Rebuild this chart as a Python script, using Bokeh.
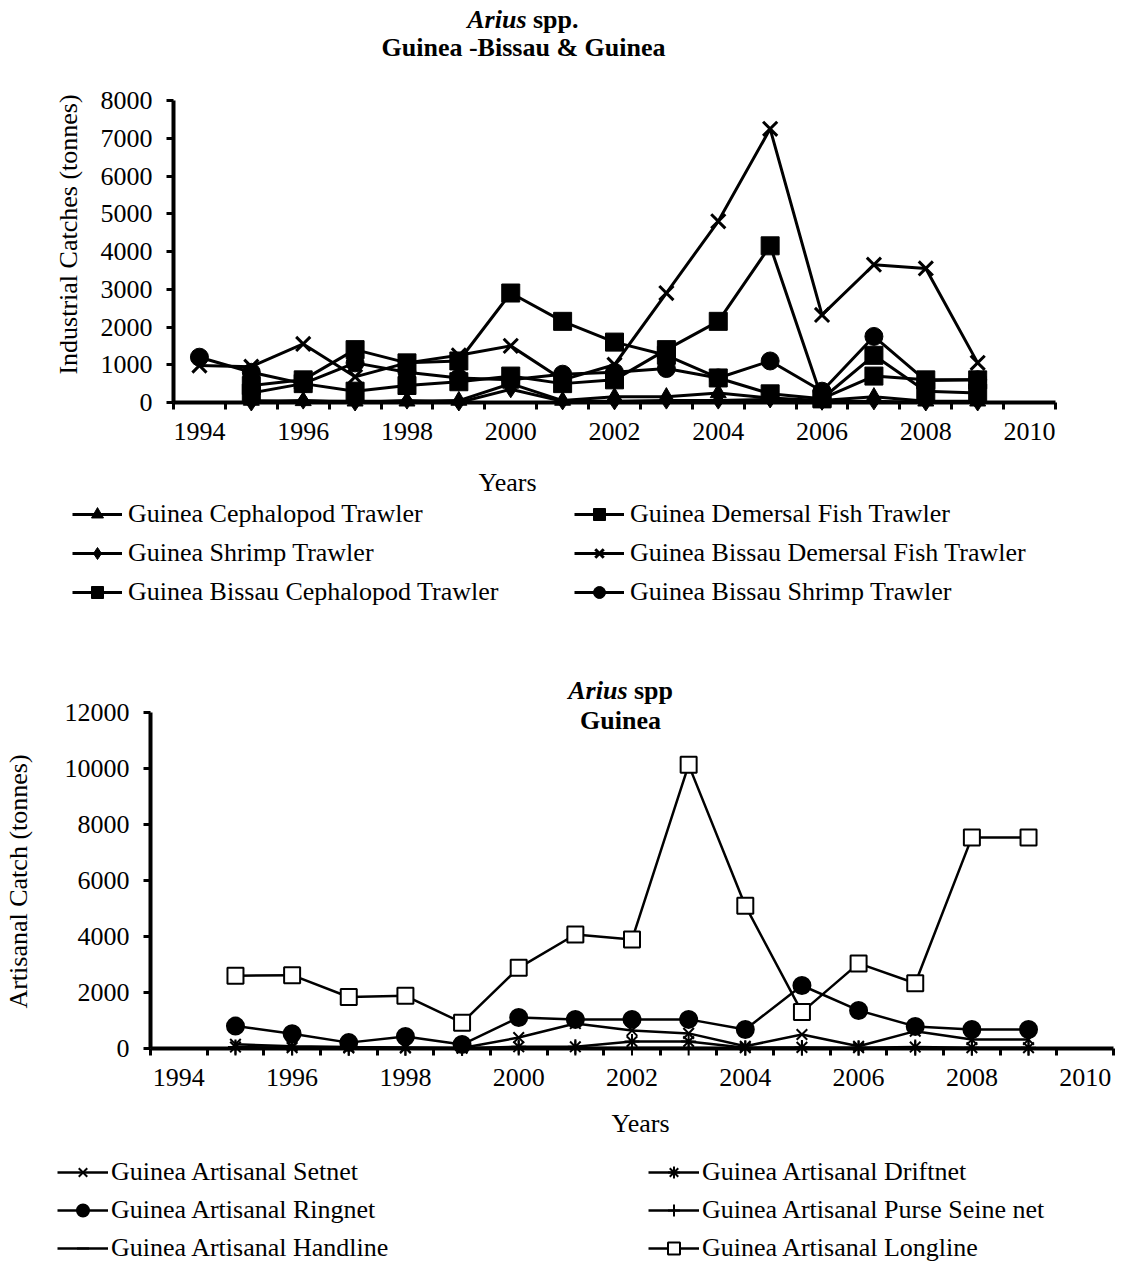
import numpy as np
from bokeh.plotting import figure
from bokeh.models import Range1d, FixedTicker, Legend, LegendItem, Label, LinearAxis
from bokeh.layouts import column
from bokeh.embed import file_html
from bokeh.resources import INLINE

FONT = "Liberation Serif"
FS = "26px"
NA = float("nan")

# ---------------- Top chart data (Industrial catches) ----------------
top_years = [1994, 1995, 1996, 1997, 1998, 1999, 2000, 2001, 2002, 2003, 2004, 2005, 2006, 2007, 2008, 2009]
guinea_cephalopod_trawler = [NA, 50, 40, 30, 30, 50, 500, 50, 150, 150, 250, 120, 50, 150, 30, 30]
guinea_demersal_fish_trawler = [NA, 250, 500, 300, 450, 550, 700, 500, 600, 1400, 2150, 4150, 100, 1250, 300, 250]
guinea_shrimp_trawler = [NA, 0, 50, 0, 50, 0, 350, 30, 30, 50, 50, 80, 20, 30, 0, 0]
gb_demersal_fish_trawler = [980, 950, 1550, 680, 1050, 1250, 1500, 600, 1000, 2900, 4800, 7250, 2320, 3650, 3550, 1050]
gb_cephalopod_trawler = [NA, 450, 600, 1400, 1050, 1100, 2900, 2150, 1600, 1250, 650, 230, 100, 700, 600, 600]
gb_shrimp_trawler = [1200, 800, 500, 1050, 800, 650, 600, 750, 800, 900, 650, 1100, 300, 1750, 580, 600]
top_labels = ["Guinea Cephalopod Trawler", "Guinea Demersal Fish Trawler",
              "Guinea Shrimp Trawler", "Guinea Bissau Demersal Fish Trawler",
              "Guinea Bissau Cephalopod Trawler", "Guinea Bissau Shrimp Trawler"]
top_series = [guinea_cephalopod_trawler, guinea_demersal_fish_trawler, guinea_shrimp_trawler,
              gb_demersal_fish_trawler, gb_cephalopod_trawler, gb_shrimp_trawler]
top_y_ticks = [0, 1000, 2000, 3000, 4000, 5000, 6000, 7000, 8000]

# ---------------- Bottom chart data (Artisanal catches) ----------------
bottom_years = [1995, 1996, 1997, 1998, 1999, 2000, 2001, 2002, 2003, 2004, 2005, 2006, 2007, 2008, 2009]
artisanal_setnet = [150, 80, 50, 40, 20, 390, 890, 640, 540, 80, 500, 80, 620, 320, 320]
artisanal_driftnet = [50, 30, 20, 20, 10, 60, 60, 250, 250, 30, 40, 30, 50, 30, 30]
artisanal_ringnet = [800, 530, 210, 430, 140, 1110, 1040, 1040, 1040, 680, 2250, 1360, 790, 680, 680]
artisanal_purse_seine = [20, 20, 10, 10, 10, 20, 20, 20, 20, 10, 10, 10, 10, 10, 10]
artisanal_handline = [10, 10, 5, 5, 5, 10, 10, 10, 10, 5, 5, 5, 5, 5, 5]
artisanal_longline = [2600, 2620, 1840, 1880, 920, 2880, 4070, 3890, 10130, 5100, 1300, 3040, 2330, 7540, 7540]
bottom_labels = ["Guinea Artisanal Setnet", "Guinea Artisanal Driftnet",
                 "Guinea Artisanal Ringnet", "Guinea Artisanal Purse Seine net",
                 "Guinea Artisanal Handline", "Guinea Artisanal Longline"]
bottom_series = [artisanal_setnet, artisanal_driftnet, artisanal_ringnet,
                 artisanal_purse_seine, artisanal_handline, artisanal_longline]
bottom_y_ticks = [0, 2000, 4000, 6000, 8000, 10000, 12000]

year_labels = [1994, 1996, 1998, 2000, 2002, 2004, 2006, 2008, 2010]
X0, X1 = 1993.5, 2010.5   # category axis extent

W = 1115


class Mapper:
    """pixel layout of one chart: plot area edges in canvas pixels"""
    def __init__(self, H, left, right, top, bottom, ymax):
        self.H, self.left, self.right, self.top, self.bottom, self.ymax = H, left, right, top, bottom, ymax
        self.kx = (right - left) / (X1 - X0)
        self.ky = (bottom - top) / ymax

    def x_range(self):
        return Range1d(X0 - self.left / self.kx, X0 + (W - self.left) / self.kx)

    def y_range(self):
        return Range1d(-(self.H - self.bottom) / self.ky, self.ymax + self.top / self.ky)

    def x(self, px):
        return X0 + (px - self.left) / self.kx

    def y(self, py):
        return (self.bottom - py) / self.ky


def make_fig(m, yticks, ylabel, ylabel_xy):
    p = figure(width=W, height=m.H, output_backend="svg", toolbar_location=None,
               x_range=m.x_range(), y_range=m.y_range(),
               x_axis_type=None, y_axis_type=None,
               min_border=0, min_border_left=0, min_border_right=0,
               min_border_top=0, min_border_bottom=0)
    p.outline_line_color = None
    p.background_fill_color = "white"
    p.border_fill_color = "white"
    xa = LinearAxis(fixed_location=0, bounds=(X0, X1),
                    ticker=FixedTicker(ticks=year_labels,
                                       minor_ticks=[y + 0.5 for y in range(1993, 2011)]))
    ya = LinearAxis(fixed_location=X0, bounds=(0, m.ymax),
                    ticker=FixedTicker(ticks=yticks, minor_ticks=[]))
    for ax in (xa, ya):
        ax.axis_line_width = 4
        ax.axis_line_color = "black"
        ax.major_tick_line_width = 3
        ax.major_tick_line_color = "black"
        ax.minor_tick_line_width = 3
        ax.minor_tick_line_color = "black"
        ax.major_tick_in = 0
        ax.minor_tick_in = 0
        ax.major_label_text_font = FONT
        ax.major_label_text_font_size = FS
        ax.major_label_text_color = "black"
    xa.major_tick_out = 0
    xa.minor_tick_out = 7
    xa.major_label_standoff = 13
    ya.major_tick_out = 7
    ya.minor_tick_out = 0
    ya.major_label_standoff = 14
    p.add_layout(xa, "below")
    p.add_layout(ya, "left")
    p.add_layout(Label(x=m.x(ylabel_xy[0]), y=m.y(ylabel_xy[1]), text=ylabel, angle=90,
                       angle_units="deg", text_font=FONT, text_font_size=FS,
                       text_align="center", text_baseline="middle", text_color="black"))
    return p


def lbl(m, px, py, text, style="normal", align="center", xoff=0):
    return Label(x=m.x(px), y=m.y(py), text=text, text_font=FONT, text_font_size=FS,
                 text_font_style=style, text_align=align, text_baseline="middle",
                 text_color="black", x_offset=xoff)


def make_legend(items, loc, glyph_w, label_w, spacing, standoff):
    return Legend(items=items, ncols=2, orientation="horizontal", location=loc,
                  label_text_font=FONT, label_text_font_size=FS, label_text_color="black",
                  glyph_width=glyph_w, glyph_height=30, label_height=30, label_standoff=standoff,
                  label_width=label_w, spacing=spacing, padding=0, margin=0,
                  border_line_color=None, background_fill_alpha=0)


# ================= Top figure =================
H1 = 630
m1 = Mapper(H1, left=173, right=1055, top=100, bottom=402, ymax=8000)
p1 = make_fig(m1, top_y_ticks, "Industrial Catches (tonnes)", (68, 234))

top_markers = ["triangle", "square", "diamond", "x", "square", "circle"]
top_sizes = [16, 18, 17, 20, 18, 18]
items = []
for vals, name, mk, sz in zip(top_series, top_labels, top_markers, top_sizes):
    yv = np.array(vals, dtype=float)
    xv = np.array(top_years, dtype=float)
    lr = p1.line(xv, yv, line_color="black", line_width=3)
    sr = p1.scatter(xv, yv, marker=mk, size=sz, fill_color="black", line_color="black",
                    line_width=3 if mk == "x" else 1)
    items.append(LegendItem(label=name, renderers=[lr, sr]))
p1.add_layout(make_legend(items, (72, H1 - 607), 50, 437, 9, 6), "center")

p1.add_layout(lbl(m1, 526, 19, "Arius", "bold italic", "right"))
p1.add_layout(lbl(m1, 526, 19, "spp.", "bold", "left", 6.5))
p1.add_layout(lbl(m1, 523, 47, "Guinea -Bissau & Guinea", "bold"))
p1.add_layout(lbl(m1, 507, 482, "Years"))

# ================= Bottom figure =================
H2 = 635
OFF = H1  # page y offset of bottom figure
m2 = Mapper(H2, left=150, right=1113, top=712 - OFF, bottom=1048 - OFF, ymax=12000)
p2 = make_fig(m2, bottom_y_ticks, "Artisanal Catch (tonnes)", (18, 881 - OFF))

bottom_markers = ["x", "asterisk", "circle", "cross", "dash", "square"]
bottom_sizes = [15, 15, 17, 15, 10, 16]
bottom_fill = ["black", "black", "black", "black", "black", "white"]
items2 = []
for vals, name, mk, sz, fc in zip(bottom_series, bottom_labels, bottom_markers, bottom_sizes, bottom_fill):
    yv = np.array(vals, dtype=float)
    xv = np.array(bottom_years, dtype=float)
    lr = p2.line(xv, yv, line_color="black", line_width=2.5)
    sr = p2.scatter(xv, yv, marker=mk, size=sz, fill_color=fc, line_color="black",
                    line_width=2)
    items2.append(LegendItem(label=name, renderers=[lr, sr]))
p2.add_layout(make_legend(items2, (57, H2 - (1248 + 15 - OFF)), 51, 529, 8, 3), "center")

p2.add_layout(lbl(m2, 627, 690 - OFF, "Arius", "bold italic", "right"))
p2.add_layout(lbl(m2, 627, 690 - OFF, "spp", "bold", "left", 6.5))
p2.add_layout(lbl(m2, 620, 720 - OFF, "Guinea", "bold"))
p2.add_layout(lbl(m2, 640, 1123 - OFF, "Years"))

layout = column(p1, p2, spacing=0)
open("out.html", "w").write(file_html(layout, INLINE))
